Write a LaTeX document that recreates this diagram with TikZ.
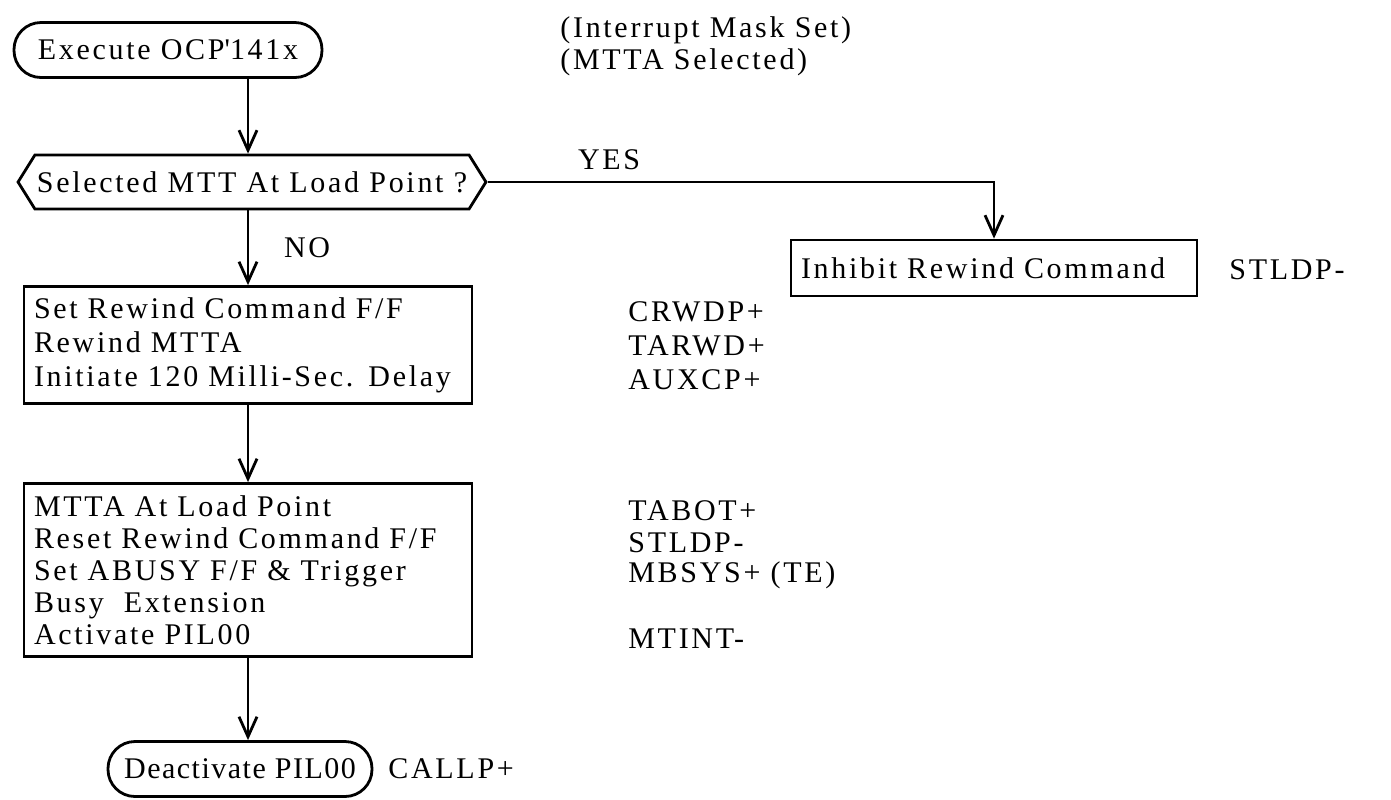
\documentclass[tikz,border=0pt]{standalone}
\usepackage{fontspec}
\setmainfont{Liberation Serif}[LetterSpace=9]
\usetikzlibrary{positioning, arrows.meta, shapes.symbols}
\tikzset{
>={Straight Barb[length=10pt,width=9pt]}, % open V heads like the typed chart
every node/.style={font=\fontsize{15}{16}\selectfont}, % one size for all text
terminal/.style={draw, rectangle, rounded corners=13.5pt, line width=1.4pt, minimum height=27.5pt}, % start and end
decision/.style={draw, signal, signal to=west and east, signal pointer angle=116, line width=1.4pt, minimum width=230pt, minimum height=27pt, inner xsep=1pt}, % the question box
process/.style={draw, rectangle, line width=1.4pt, align=left, text width=214pt, inner xsep=5pt, inner ysep=5pt}, % action boxes
sig/.style={anchor=west, inner sep=0pt}, % signal names at the right
flow/.style={->, line width=1.4pt}, % connectors
}

\begin{document}
\begin{tikzpicture}[x=0.5pt, y=-0.5pt]
                \useasboundingbox (0,0) rectangle (1391,799);
                \node[terminal, minimum width=154pt] (start) at (168,50) {Execute OCP\textquotesingle 141x};
                \node[sig, align=left] (mask) at (560,46) {(Interrupt Mask Set)\\(MTTA Selected)};
                \node[decision] (dec) at (252,182) {Selected MTT At Load Point ?};
                \node[process, text width=193pt, minimum height=28pt] (inhibit) at (994,268) {Inhibit Rewind Command};
                \node[sig] (stldpA) at (1229,270) {STLDP-};
                \node[process, minimum height=58.5pt, font=\fontsize{15}{17}\selectfont] (rew) at (248,345) {Set Rewind Command F/F\\Rewind MTTA\\Initiate 120 Milli-Sec. Delay};
                \node[sig] (crwdp) at (628,312) {CRWDP+};
                \node[sig] (tarwd) at (628,346) {TARWD+};
                \node[sig] (auxcp) at (628,380) {AUXCP+};
                \node[process, minimum height=86.5pt] (load) at (248,570) {MTTA At Load Point\\Reset Rewind Command F/F\\Set ABUSY F/F \& Trigger\\Busy\ \ Extension\\Activate PIL00};
                \node[sig] (tabot) at (628,511) {TABOT+};
                \node[sig] (stldpB) at (628,543) {STLDP-};
                \node[sig] (mbsys) at (628,575) {MBSYS+ (TE)};
                \node[sig] (mtint) at (628,639) {MTINT-};
                \node[terminal, minimum width=132pt, font=\fontsize{15}{16}\selectfont\addfontfeatures{LetterSpace=5}] (stop) at (240,769) {Deactivate PIL00};
                \node[sig] (callp) at (388,769) {CALLP+};
                \draw
                    (start.south -| rew.north) edge[flow] (dec.north -| rew.north)
                    (dec.south -| rew.north) edge[flow] node[pos=0.5, right=14pt] (no) {NO} (rew.north)
                    (rew.south) edge[flow] (load.north)
                    (load.south) edge[flow] (load.south |- stop.north)
                    ;
                \draw[flow] (dec.east) -| node[pos=0.12, above=2pt] (yes) {YES} (inhibit.north);
                \end{tikzpicture}
\end{document}
